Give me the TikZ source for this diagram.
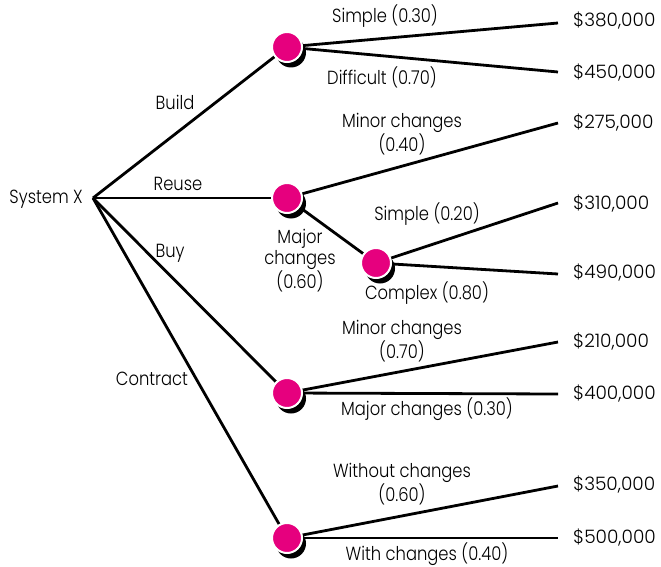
\documentclass[tikz,border=0pt]{standalone}
\usepackage{fontspec}
\IfFontExistsTF{Poppins Light}{\def\myfontname{Poppins Light}}{\def\myfontname{Poppins}}
\setmainfont{\myfontname}
\newfontfamily\lblfont{\myfontname}[FakeStretch=0.86]
\newfontfamily\valfont{\myfontname}
\usetikzlibrary{shadows}
\definecolor{chancepink}{RGB}{230,0,126}
\begin{document}
\begin{tikzpicture}[x=1pt,y=-1pt,
  edge/.style={line width=2.8pt, black},
  chance/.style={circle, fill=chancepink, draw=white, line width=2pt, minimum size=30pt, inner sep=0pt,
    drop shadow={shadow xshift=4pt, shadow yshift=-5.5pt, fill=black, opacity=1}},
  lbl/.style={font=\lblfont\fontsize{19}{21}\selectfont, align=center, inner sep=1pt},
  val/.style={font=\valfont\fontsize{18.5}{21}\selectfont, anchor=west, inner sep=0pt}]
\useasboundingbox (0,0) rectangle (661,567);
% root
\coordinate (root) at (93,198);
\node[lbl, anchor=east] (sys) at (84,199) {System X};
% decision points
\coordinate (cBuild) at (287,47);
\coordinate (cReuse) at (287,198);
\coordinate (cBuy) at (287,393);
\coordinate (cContract) at (287,538);
\coordinate (cMajor) at (376,263);
% leaf ends
\coordinate (e1) at (558,23);
\coordinate (e2) at (558,72);
\coordinate (e3) at (558,123);
\coordinate (e4) at (558,203);
\coordinate (e5) at (558,274);
\coordinate (e6) at (558,342);
\coordinate (e7) at (558,394);
\coordinate (e8) at (558,486);
\coordinate (e9) at (558,538);
% connectors
\draw[edge] (root) -- (cBuild);
\draw[edge] (root) -- (cReuse);
\draw[edge] (root) -- (cBuy);
\draw[edge] (root) -- (cContract);
\draw[edge] (cBuild) -- (e1);
\draw[edge] (cBuild) -- (e2);
\draw[edge] (cReuse) -- (e3);
\draw[edge] (cReuse) -- (cMajor);
\draw[edge] (cMajor) -- (e4);
\draw[edge] (cMajor) -- (e5);
\draw[edge] (cBuy) -- (e6);
\draw[edge] (cBuy) -- (e7);
\draw[edge] (cContract) -- (e8);
\draw[edge] (cContract) -- (e9);
% chance nodes
\node[chance] (nBuild) at (cBuild) {};
\node[chance] (nReuse) at (cReuse) {};
\node[chance] (nBuy) at (cBuy) {};
\node[chance] (nContract) at (cContract) {};
\node[chance] (nMajor) at (cMajor) {};
% branch labels
\node[lbl] (lBuild) at (175,102) {Build};
\node[lbl] (lReuse) at (178,184) {Reuse};
\node[lbl] (lBuy) at (170,253) {Buy};
\node[lbl] (lContract) at (152,379) {Contract};
\node[lbl] (l1) at (385,16) {Simple (0.30)};
\node[lbl] (l2) at (382,77) {Difficult (0.70)};
\node[lbl] (l3) at (402,134) {Minor changes\\(0.40)};
\node[lbl] (l4) at (300,261) {Major\\changes\\(0.60)};
\node[lbl] (l5) at (427,214) {Simple (0.20)};
\node[lbl] (l6) at (427,293) {Complex (0.80)};
\node[lbl] (l7) at (402,341) {Minor changes\\(0.70)};
\node[lbl] (l8) at (427,409) {Major changes (0.30)};
\node[lbl] (l9) at (402,484) {Without changes\\(0.60)};
\node[lbl] (l10) at (427,554) {With changes (0.40)};
% values
\node[val] (v1) at (573,21) {\$380,000};
\node[val] (v2) at (573,73) {\$450,000};
\node[val] (v3) at (573,123) {\$275,000};
\node[val] (v4) at (573,204) {\$310,000};
\node[val] (v5) at (573,273) {\$490,000};
\node[val] (v6) at (573,342) {\$210,000};
\node[val] (v7) at (573,394) {\$400,000};
\node[val] (v8) at (573,485) {\$350,000};
\node[val] (v9) at (573,538) {\$500,000};
\end{tikzpicture}
\end{document}
